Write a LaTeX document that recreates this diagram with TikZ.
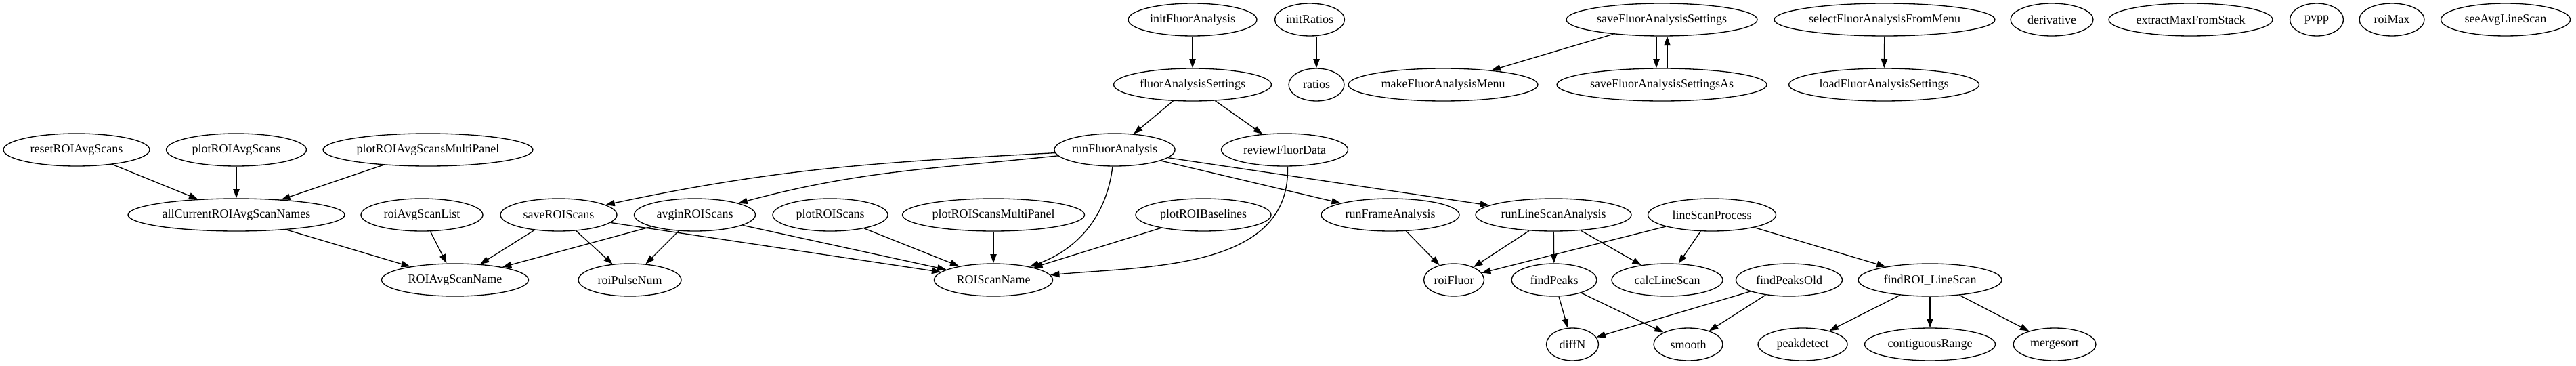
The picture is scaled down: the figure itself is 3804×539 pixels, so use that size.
\documentclass[tikz,border=0pt]{standalone}
\usepackage{fontspec}
\setmainfont{Liberation Serif}
\usetikzlibrary{shapes.geometric,arrows.meta}
\begin{document}
\begin{tikzpicture}[x=0.75pt,y=-0.75pt,
  nd/.style={draw,ellipse,inner sep=0pt,minimum height=36pt,font=\fontsize{13.5}{16}\selectfont,line width=1pt},
  w/.style={minimum width=#1*0.75pt},
  arr/.style={-{Triangle[length=10pt,width=7pt]},line width=1pt}]
\path[use as bounding box,fill=white] (0,0) rectangle (3804,539);
% row 1
\node[nd,w=190] (iFA) at (1761,29) {initFluorAnalysis};
\node[nd,w=103] (iR) at (1934,29) {initRatios};
\node[nd,w=282] (sFAS) at (2454,29) {saveFluorAnalysisSettings};
\node[nd,w=326] (sel) at (2783,29) {selectFluorAnalysisFromMenu};
\node[nd,w=122] (der) at (3030,29) {derivative};
\node[nd,w=242] (ext) at (3235,29) {extractMaxFromStack};
\node[nd,w=79] (pvpp) at (3421,29) {pvpp};
\node[nd,w=96] (roiMax) at (3532,29) {roiMax};
\node[nd,w=191] (seeA) at (3700,29) {seeAvgLineScan};
% row 2
\node[nd,w=233] (fAS) at (1761,125) {fluorAnalysisSettings};
\node[nd,w=82] (rat) at (1944,125) {ratios};
\node[nd,w=280] (mFAM) at (2131,125) {makeFluorAnalysisMenu};
\node[nd,w=310] (sFASA) at (2454,125) {saveFluorAnalysisSettingsAs};
\node[nd,w=281] (lFAS) at (2782,125) {loadFluorAnalysisSettings};
% row 3
\node[nd,w=216] (rst) at (113,221) {resetROIAvgScans};
\node[nd,w=207] (pRAS) at (349,221) {plotROIAvgScans};
\node[nd,w=310] (pRASM) at (632,221) {plotROIAvgScansMultiPanel};
\node[nd,w=177] (runF) at (1646,221) {runFluorAnalysis};
\node[nd,w=187] (revF) at (1897,221) {reviewFluorData};
% row 4
\node[nd,w=320] (allC) at (349,317) {allCurrentROIAvgScanNames};
\node[nd,w=180] (rASL) at (623,317) {roiAvgScanList};
\node[nd,w=172] (sRS) at (825,317) {saveROIScans};
\node[nd,w=179] (avg) at (1026,317) {avginROIScans};
\node[nd,w=170] (pRS) at (1226,317) {plotROIScans};
\node[nd,w=269] (pRSM) at (1467,317) {plotROIScansMultiPanel};
\node[nd,w=200] (pRB) at (1777,317) {plotROIBaselines};
\node[nd,w=204] (rFr) at (2053,317) {runFrameAnalysis};
\node[nd,w=230] (rLS) at (2294,317) {runLineScanAnalysis};
\node[nd,w=189] (lSP) at (2528,317) {lineScanProcess};
% row 5
\node[nd,w=217] (RASN) at (672,413) {ROIAvgScanName};
\node[nd,w=152] (rPN) at (930,413) {roiPulseNum};
\node[nd,w=175] (RSN) at (1467,413) {ROIScanName};
\node[nd,w=89] (rFl) at (2147,413) {roiFluor};
\node[nd,w=126] (fP) at (2295,413) {findPeaks};
\node[nd,w=164] (cLS) at (2462,413) {calcLineScan};
\node[nd,w=157] (fPO) at (2642,413) {findPeaksOld};
\node[nd,w=212] (fRL) at (2850,413) {findROI\_LineScan};
% row 6
\node[nd,w=77] (dN) at (2322,508) {diffN};
\node[nd,w=102] (sm) at (2493,508) {smooth};
\node[nd,w=132] (pd) at (2662,508) {peakdetect};
\node[nd,w=193] (cR) at (2850,508) {contiguousRange};
\node[nd,w=122] (ms) at (3034,508) {mergesort};
% edges
\draw[arr] (rst) -- (allC);
\draw[arr] (pRAS) -- (allC);
\draw[arr] (pRASM) -- (allC);
\draw[arr] (allC) -- (RASN);
\draw[arr] (rASL) -- (RASN);
\draw[arr] (sRS) -- (RASN);
\draw[arr] (sRS) -- (rPN);
\draw[arr] (sRS) -- (RSN);
\draw[arr] (avg) -- (RASN);
\draw[arr] (avg) -- (rPN);
\draw[arr] (avg) -- (RSN);
\draw[arr] (pRS) -- (RSN);
\draw[arr] (pRSM) -- (RSN);
\draw[arr] (pRB) -- (RSN);
\draw[arr] (runF) to[out=183,in=12] (sRS);
\draw[arr] (runF) to[out=186,in=15] (avg);
\draw[arr] (runF.-97) to[out=-97,in=20] (RSN.20);
\draw[arr] (revF.-80) to[out=-88,in=5] (RSN.5);
\draw[arr] (runF) -- (rFr);
\draw[arr] (runF) -- (rLS);
\draw[arr] (iFA) -- (fAS);
\draw[arr] (fAS) -- (runF);
\draw[arr] (fAS) -- (revF);
\draw[arr] (iR.south -| rat.north) -- (rat.north);
\draw[arr] (sFAS) -- (mFAM);
\draw[arr] ([xshift=-6pt]sFAS.south) -- ([xshift=-6pt]sFASA.north);
\draw[arr] ([xshift=6pt]sFASA.north) -- ([xshift=6pt]sFAS.south);
\draw[arr] (sel) -- (lFAS);
\draw[arr] (rFr) -- (rFl);
\draw[arr] (rLS) -- (rFl);
\draw[arr] (rLS) -- (fP);
\draw[arr] (rLS) -- (cLS);
\draw[arr] (lSP) -- (rFl);
\draw[arr] (lSP) -- (cLS);
\draw[arr] (lSP) -- (fRL);
\draw[arr] (fP) -- (dN);
\draw[arr] (fP) -- (sm);
\draw[arr] (fPO) -- (dN);
\draw[arr] (fPO) -- (sm);
\draw[arr] (fRL) -- (pd);
\draw[arr] (fRL) -- (cR);
\draw[arr] (fRL) -- (ms);
\end{tikzpicture}
\end{document}
